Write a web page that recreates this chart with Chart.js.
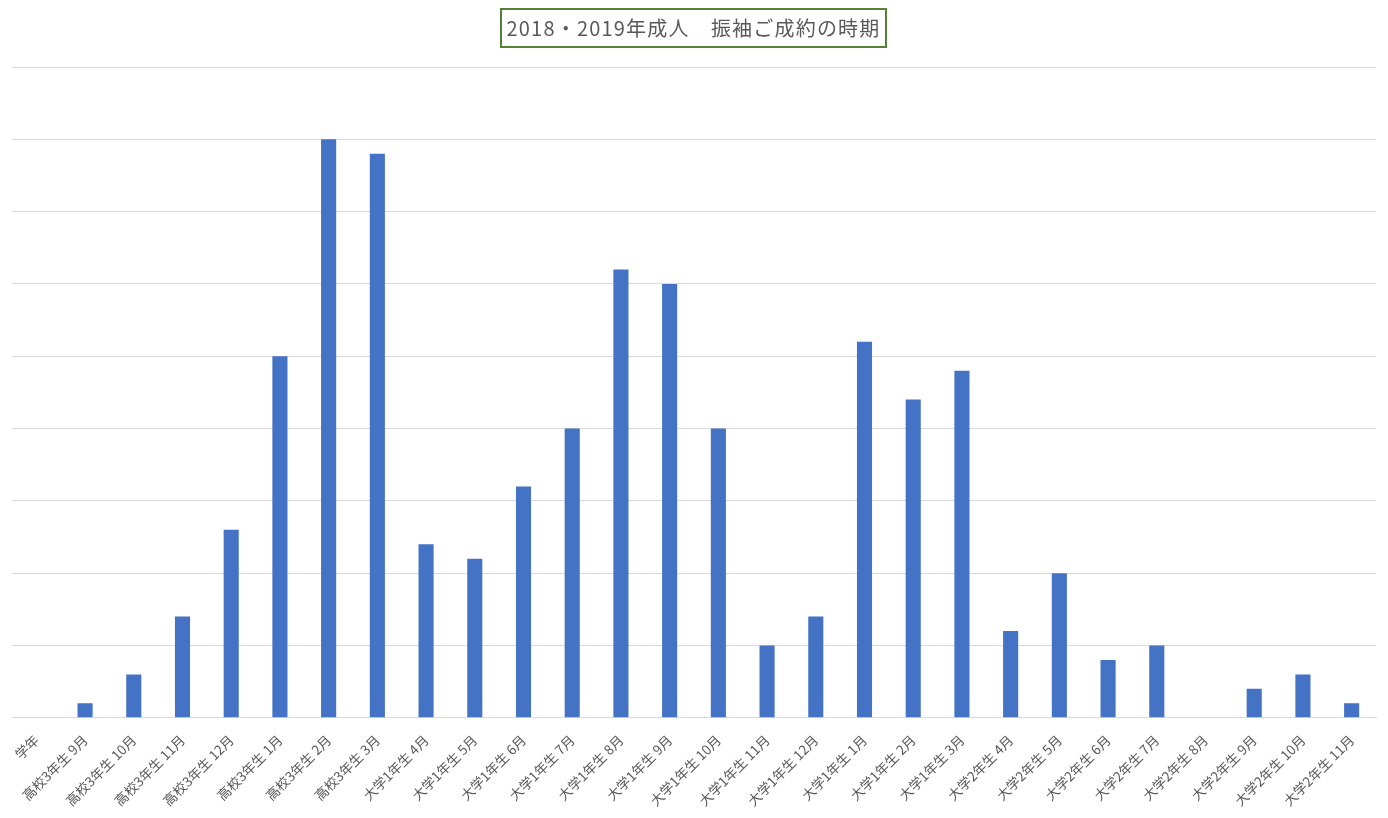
<!DOCTYPE html>
<html>
<head>
<meta charset="utf-8">
<script src="https://cdn.jsdelivr.net/npm/chart.js@4/dist/chart.umd.min.js"></script>
<style>
  html, body { margin: 0; padding: 0; background: #fff; }
  #wrap { position: relative; width: 1388px; height: 818px; }
  #title {
    position: absolute; left: 500px; top: 8px; width: 383px; height: 36px;
    border: 2px solid #548235; box-sizing: content-box;
    font-family: "Noto Sans CJK JP", sans-serif; font-size: 20px; color: #595959;
    letter-spacing: 1.2px;
    text-align: center; line-height: 36px; white-space: pre;
  }
</style>
</head>
<body>
<div id="wrap">
  <div id="title">2018・2019年成人　振袖ご成約の時期</div>
  <canvas id="timingChart" width="1388" height="818"></canvas>
</div>
<script>
// categories (学年 + month)
const categories = [
  '学年',
  '高校3年生 9月', '高校3年生 10月', '高校3年生 11月', '高校3年生 12月',
  '高校3年生 1月', '高校3年生 2月', '高校3年生 3月',
  '大学1年生 4月', '大学1年生 5月', '大学1年生 6月', '大学1年生 7月',
  '大学1年生 8月', '大学1年生 9月', '大学1年生 10月', '大学1年生 11月',
  '大学1年生 12月', '大学1年生 1月', '大学1年生 2月', '大学1年生 3月',
  '大学2年生 4月', '大学2年生 5月', '大学2年生 6月', '大学2年生 7月',
  '大学2年生 8月', '大学2年生 9月', '大学2年生 10月', '大学2年生 11月'
];

// number of contracts
const contracts = [
  0,
  1, 3, 7, 13,
  25, 40, 39,
  12, 11, 16, 20,
  31, 30, 20, 5,
  7, 26, 22, 24,
  6, 10, 4, 5,
  0, 2, 3, 1
];

const yMax = 45;
const yStep = 5;

new Chart(document.getElementById('timingChart'), {
  type: 'bar',
  data: {
    labels: categories,
    datasets: [{
      data: contracts,
      backgroundColor: '#4472C4',
      borderWidth: 0,
      categoryPercentage: 1.0,
      barPercentage: 0.31,
    }]
  },
  options: {
    responsive: false,
    animation: false,
    layout: {
      padding: { top: 67, left: 12, right: 12, bottom: 3 }
    },
    plugins: {
      legend: { display: false },
      tooltip: { enabled: false },
    },
    scales: {
      x: {
        grid: { display: false },
        border: { color: '#d9d9d9' },
        ticks: {
          autoSkip: false,
          maxRotation: 45,
          minRotation: 45,
          padding: 6,
          color: '#595959',
          font: { family: '"Noto Sans CJK JP", sans-serif', size: 13.5 },
        }
      },
      y: {
        min: 0,
        max: yMax,
        ticks: { display: false, stepSize: yStep },
        border: { display: false },
        grid: { color: '#d9d9d9', drawTicks: false },
      }
    }
  }
});
</script>
</body>
</html>
